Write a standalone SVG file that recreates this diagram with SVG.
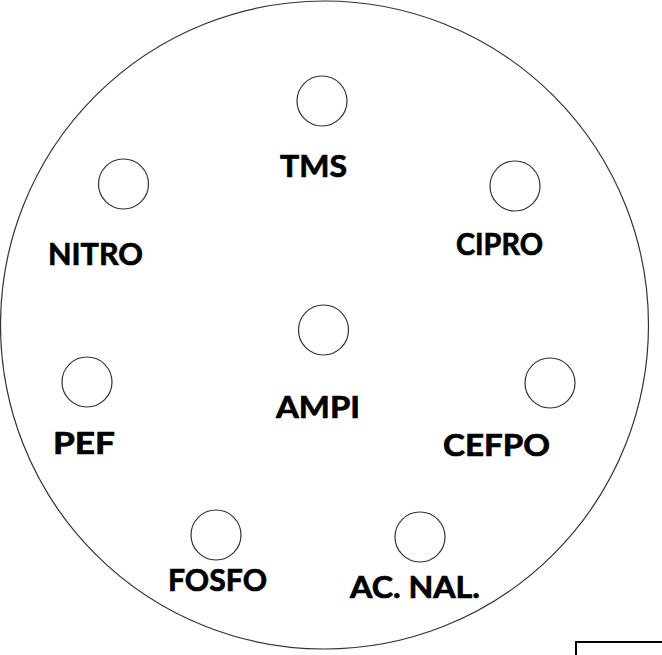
<svg xmlns="http://www.w3.org/2000/svg" width="662" height="655" viewBox="0 0 662 655">
<style>
.disk{fill:none;stroke:#333;stroke-width:1.2}
.plate{fill:none;stroke:#333;stroke-width:1.2}
.lbl{font-family:Lato,"Open Sans","Liberation Sans",sans-serif;font-weight:bold;font-size:30px;fill:#000;stroke:#000;stroke-width:0.7}
</style>
<rect width="662" height="655" fill="#fff"/>
<g id="plate"><circle class="plate" cx="324.5" cy="325" r="324"/></g>
<g id="TMS"><circle class="disk" cx="322" cy="101" r="25"/><text class="lbl" x="280" y="177" textLength="67" lengthAdjust="spacingAndGlyphs">TMS</text></g>
<g id="NITRO"><circle class="disk" cx="123.5" cy="184" r="25"/><text class="lbl" x="48" y="265" textLength="95" lengthAdjust="spacingAndGlyphs">NITRO</text></g>
<g id="CIPRO"><circle class="disk" cx="515" cy="186" r="25"/><text class="lbl" x="456" y="255" textLength="87" lengthAdjust="spacingAndGlyphs">CIPRO</text></g>
<g id="AMPI"><circle class="disk" cx="323.5" cy="330" r="25"/><text class="lbl" x="276" y="418" textLength="84" lengthAdjust="spacingAndGlyphs">AMPI</text></g>
<g id="PEF"><circle class="disk" cx="87" cy="382" r="25"/><text class="lbl" x="53" y="454" textLength="62" lengthAdjust="spacingAndGlyphs">PEF</text></g>
<g id="CEFPO"><circle class="disk" cx="550" cy="383" r="25"/><text class="lbl" x="443" y="456" textLength="107" lengthAdjust="spacingAndGlyphs">CEFPO</text></g>
<g id="FOSFO"><circle class="disk" cx="216" cy="535" r="25"/><text class="lbl" x="168" y="591" textLength="99" lengthAdjust="spacingAndGlyphs">FOSFO</text></g>
<g id="ACNAL"><circle class="disk" cx="420" cy="537" r="25"/><text class="lbl" x="350" y="598" textLength="130" lengthAdjust="spacingAndGlyphs">AC. NAL.</text></g>
<g id="connectors"></g>
<rect x="576" y="642" width="120" height="40" fill="none" stroke="#000" stroke-width="2"/>
</svg>
